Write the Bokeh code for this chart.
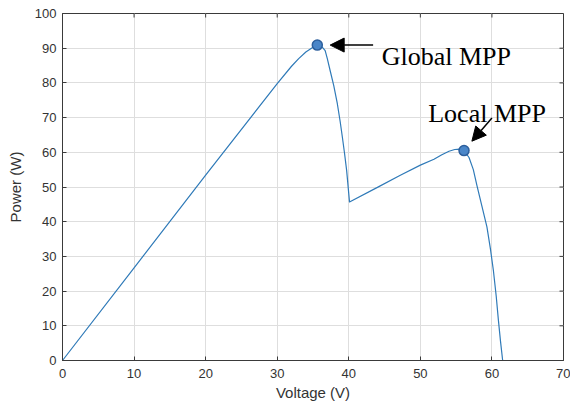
import math
from bokeh.plotting import figure
from bokeh.models import (ColumnDataSource, Range1d, FixedTicker,
                          Arrow, NormalHead, Label)
from bokeh.embed import file_html
from bokeh.resources import INLINE

# P-V curve of a partially shaded PV string
voltage = [0, 10, 20, 30, 32, 33, 34, 35, 35.6, 36.2, 36.7, 37.0, 37.4,
           37.9, 38.4, 38.8, 39.1, 39.4, 39.7, 40.1,
           44.0, 47.2, 50.0, 51.9, 53.0, 54.0, 54.8, 55.5, 56.1, 56.8, 57.4,
           57.9, 58.6, 59.3, 59.8, 60.2, 60.6, 60.9, 61.2, 61.5]
power = [0, 26.7, 53.4, 79.8, 84.8, 87.0, 88.9, 90.3, 90.9, 90.5, 89.3,
         87.0, 83.5, 79.2, 74.0, 68.8, 64.4, 59.8, 54.8, 45.7,
         49.9, 53.4, 56.3, 58.0, 59.3, 60.3, 60.8, 60.9, 60.5, 58.5, 55.0,
         50.5, 44.5, 38.5, 32.0, 26.0, 18.5, 11.7, 5.5, 0]

# maximum power points
mpp_labels = ["Global MPP", "Local MPP"]
mpp_v = [35.6, 56.1]
mpp_p = [90.9, 60.5]

x_ticks = [0, 10, 20, 30, 40, 50, 60, 70]
y_ticks = [0, 10, 20, 30, 40, 50, 60, 70, 80, 90, 100]
x_max, y_max = 70, 100

AX = "#3a3a3a"
TICK_FONT = "Liberation Sans"

p = figure(width=570, height=403, output_backend="svg", toolbar_location=None,
           x_range=Range1d(0, x_max), y_range=Range1d(0, y_max),
           min_border_left=62, min_border_right=7, min_border_top=13,
           min_border_bottom=42)
p.background_fill_color = "white"
p.border_fill_color = "white"
p.outline_line_color = AX
p.outline_line_width = 1

for ax, ticks in ((p.xaxis[0], x_ticks), (p.yaxis[0], y_ticks)):
    ax.ticker = FixedTicker(ticks=ticks)
    ax.major_tick_in = 4
    ax.major_tick_out = 0
    ax.minor_tick_line_color = None
    ax.axis_line_color = AX
    ax.major_tick_line_color = AX
    ax.major_label_text_font = TICK_FONT
    ax.major_label_text_font_size = "13px"
    ax.major_label_text_color = "#333333"
    ax.axis_label_text_font = TICK_FONT
    ax.axis_label_text_font_size = "15px"
    ax.axis_label_text_font_style = "normal"
    ax.axis_label_text_color = "#333333"

p.xaxis.axis_label = "Voltage (V)"
p.yaxis.axis_label = "Power (W)"
p.xaxis.major_label_standoff = 8
p.xaxis.axis_label_standoff = 3
p.yaxis.major_label_standoff = 6
p.yaxis.axis_label_standoff = 8

for g, ticks in ((p.xgrid[0], x_ticks), (p.ygrid[0], y_ticks)):
    g.ticker = FixedTicker(ticks=ticks)
    g.grid_line_color = "#dedede"
    g.grid_line_width = 1

# inward ticks along the top and right edges of the box
p.ray(x=x_ticks, y=[y_max] * len(x_ticks), length=4, length_units="screen",
      angle=-math.pi / 2, line_color=AX, line_width=1)
p.ray(x=[x_max] * len(y_ticks), y=y_ticks, length=4, length_units="screen",
      angle=math.pi, line_color=AX, line_width=1)

curve = ColumnDataSource(dict(v=voltage, p=power))
p.line("v", "p", source=curve, line_color="#2f7ab8", line_width=1.2,
       line_join="round")

mpp = ColumnDataSource(dict(v=mpp_v, p=mpp_p, name=mpp_labels))
p.scatter("v", "p", source=mpp, size=10, fill_color="#4a86c8",
          line_color="#2d5f9c", line_width=1.5)

# annotation arrows and captions
head = dict(size=14, fill_color="black", line_color="black")
p.add_layout(Arrow(end=NormalHead(**head), x_start=43.4, y_start=90.9,
                   x_end=37.4, y_end=90.9, line_color="black", line_width=1.5))
p.add_layout(Arrow(end=NormalHead(**head), x_start=60.0, y_start=69.9,
                   x_end=57.2, y_end=63.2, line_color="black", line_width=1.5))

caption_pos = [(44.6, 87.6), (51.1, 71.3)]
for text, (cx, cy) in zip(mpp_labels, caption_pos):
    p.add_layout(Label(x=cx, y=cy, text=text, text_font="Liberation Serif",
                       text_font_size="26px", text_color="black",
                       text_baseline="alphabetic"))

open("out.html", "w").write(file_html(p, INLINE))
